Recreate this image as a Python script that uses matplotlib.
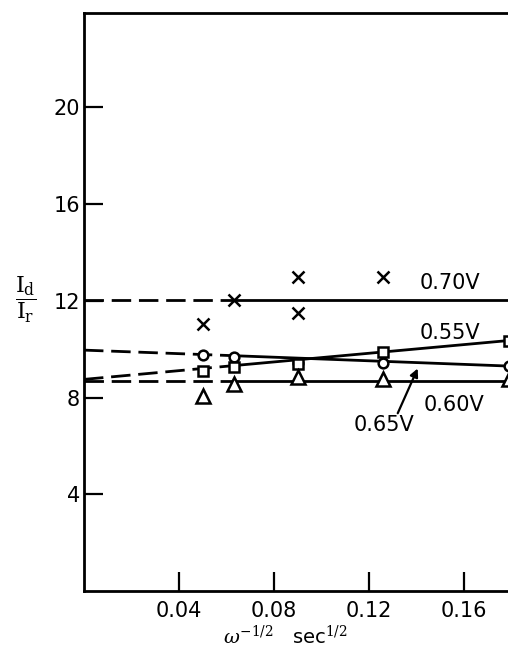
import matplotlib
matplotlib.use("Agg")
import matplotlib.pyplot as plt
import numpy as np

plt.rcParams['font.family'] = ['DejaVu Sans']
plt.rcParams['mathtext.fontset'] = 'dejavuserif'

# measured points, x = omega^-1/2 (sec^1/2), y = Id/Ir
x_pts = [0.05, 0.063, 0.09, 0.126, 0.179]
y_070 = [11.05, 12.05, 12.97, 13.0]
x_070 = [0.05, 0.063, 0.09, 0.126]
y_070b = [11.48]          # second cross at 0.09
x_070b = [0.09]
y_065 = [9.76, 9.66, 9.42, 9.44, 9.31]   # circles
y_055 = [9.09, 9.27, 9.38, 9.87, 10.35]  # squares
y_060 = [8.06, 8.58, 8.83, 8.75, 8.75]   # triangles

# fitted lines: value at x=0, at the dashed/solid break and at the right edge
fit_x = [0.0, 0.063, 0.179]
fit_070 = [12.03, 12.03, 12.03]
fit_065 = [9.96, 9.73, 9.30]
fit_055 = [8.75, 9.32, 10.36]
fit_060 = [8.69, 8.69, 8.69]

xticks = [0.04, 0.08, 0.12, 0.16]
xticklabels = ['0.04', '0.08', '0.12', '0.16']
yticks = [4, 8, 12, 16, 20]

fig = plt.figure(figsize=(5.08, 6.5), dpi=100)
ax = fig.add_axes([84/508, 59/650, 424/508, 578/650])

lw = 2.0
for fit in [fit_070, fit_065, fit_055, fit_060]:
    ax.plot(fit_x[:2], fit[:2], color='black', lw=lw, dashes=(7, 2.8), zorder=2)
    ax.plot(fit_x[1:], fit[1:], color='black', lw=lw, zorder=2)

mk = dict(color='black', mfc='white', mew=1.8, ls='none', zorder=3)
ax.plot(x_070, y_070, marker='x', ms=8, **mk)
ax.plot(x_070b, y_070b, marker='x', ms=8, **mk)
ax.plot(x_pts, y_065, marker='o', ms=7, **mk)
ax.plot(x_pts, y_055, marker='s', ms=7, **mk)
ax.plot(x_pts, y_060, marker='^', ms=10, **mk)

fs = 15
ax.text(0.154, 12.73, '0.70V', fontsize=fs, ha='center', va='center')
ax.text(0.154, 10.66, '0.55V', fontsize=fs, ha='center', va='center')
ax.text(0.1556, 7.69, '0.60V', fontsize=fs, ha='center', va='center')
ax.text(0.1264, 6.85, '0.65V', fontsize=fs, ha='center', va='center')
ax.annotate('', xy=(0.1404, 9.2), xytext=(0.132, 7.35),
            arrowprops=dict(arrowstyle='-|>', color='black', lw=1.6,
                            mutation_scale=12, shrinkA=0, shrinkB=0))

ax.set_xlim(0, 0.1784)
ax.set_ylim(0, 23.9)
ax.set_xticks(xticks)
ax.set_xticklabels(xticklabels)
ax.set_yticks(yticks)
ax.tick_params(direction='in', length=14, width=1.6, labelsize=15)
ax.tick_params(axis='x', pad=7)
ax.tick_params(axis='y', pad=3)
for s in ['left', 'top', 'bottom']:
    ax.spines[s].set_linewidth(2.0)
ax.spines['right'].set_visible(False)

fig.text(26/508, 1 - 300/650,
         r'$\dfrac{\mathrm{I}_\mathrm{d}}{\mathrm{I}_\mathrm{r}}$',
         fontsize=16, ha='center', va='center')
fig.text(285/508, 1 - 636/650, r'$\omega^{-1/2}$   sec$^{1/2}$',
         fontsize=14, ha='center', va='center')

fig.savefig('out.png', dpi=100)
